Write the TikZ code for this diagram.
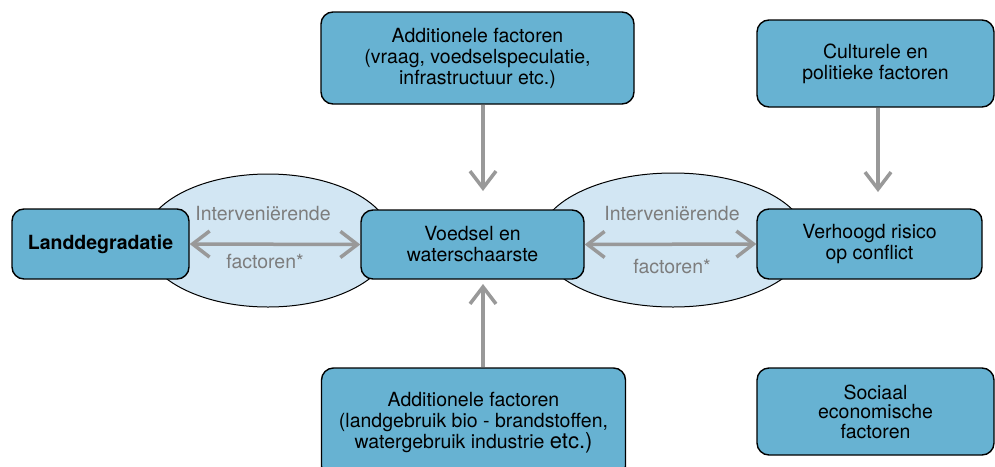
\documentclass[tikz,border=0pt]{standalone}
\usepackage{fontspec}
\setmainfont{TeX Gyre Heros}
\usetikzlibrary{arrows.meta}
\definecolor{boxblue}{RGB}{103,178,210}
\definecolor{ovalblue}{RGB}{210,230,243}
\definecolor{arrowgray}{RGB}{153,153,153}
\definecolor{labelgray}{RGB}{125,125,125}
\tikzset{
	factorbox/.style={draw=black, line width=1.4pt, fill=boxblue, rounded corners=12pt, align=center, inner sep=0pt, font=\fontsize{19.5}{21}\selectfont},
	oval/.style={draw=black, line width=1pt, fill=ovalblue},
	link/.style={draw=arrowgray, line width=3.5pt, -{Straight Barb[length=17pt,width=26pt]}},
	linkboth/.style={link, {Straight Barb[length=17pt,width=26pt]}-{Straight Barb[length=17pt,width=26pt]}},
	lbl/.style={text=labelgray, font=\fontsize{19.5}{21}\selectfont}
}
\begin{document}
\begin{tikzpicture}[x=1pt,y=-1pt]
				\useasboundingbox (0,0) rectangle (995,466);
				\fill[white] (0,0) rectangle (995,466);
				
				% ovals behind the boxes
				\draw[oval] (268,240.5) ellipse [x radius=124, y radius=66.5];
				\draw[oval] (673,240) ellipse [x radius=134, y radius=67];
				
				\node[factorbox, minimum width=177pt, minimum height=70pt] (land) at (100.5,244) {\bfseries Landdegradatie};
				\node[factorbox, minimum width=223pt, minimum height=69pt] (food) at (472.5,244.5) {Voedsel en\\waterschaarste};
				\node[factorbox, minimum width=225pt, minimum height=70pt] (risk) at (869.5,244) {Verhoogd risico\\op conflict};
				\node[factorbox, minimum width=313pt, minimum height=92pt] (addtop) at (477.5,58) {Additionele factoren\\(vraag, voedselspeculatie,\\infrastructuur etc.)};
				\node[factorbox, minimum width=237pt, minimum height=87pt] (cult) at (875.5,63.5) {Culturele en\\politieke factoren};
				\node[factorbox, minimum width=304pt, minimum height=110pt] (addbot) at (473.5,423) {Additionele factoren\\(landgebruik bio - brandstoffen,\\watergebruik industrie {\fontsize{22}{21}\selectfont etc.)}};
				\node[factorbox, minimum width=237pt, minimum height=87pt, font=\fontsize{19.5}{19.5}\selectfont] (socio) at (875.5,411.5) {Sociaal\\economische\\factoren};
				
				% labels in the ovals
				\node[lbl] (intl) at (263,214) {Interveniërende};
				\node[lbl] (factl) at (265,262) {factoren*};
				\node[lbl] (intr) at (672,214) {Interveniërende};
				\node[lbl] (factr) at (672,267) {factoren*};
				
				\draw[linkboth] (land.east) -- (food.west);
				\draw[linkboth] (food.east) -- (risk.west);
				
				\coordinate (toptip) at (483,191);
				\coordinate (culttip) at (878,192);
				\coordinate (bottip) at (483,284);
				\draw[link] (addtop.south -| toptip) -- (toptip);
				\draw[link] (cult.south -| culttip) -- (culttip);
				\draw[link] (addbot.north -| bottip) -- (bottip);
				
			\end{tikzpicture}
\end{document}
